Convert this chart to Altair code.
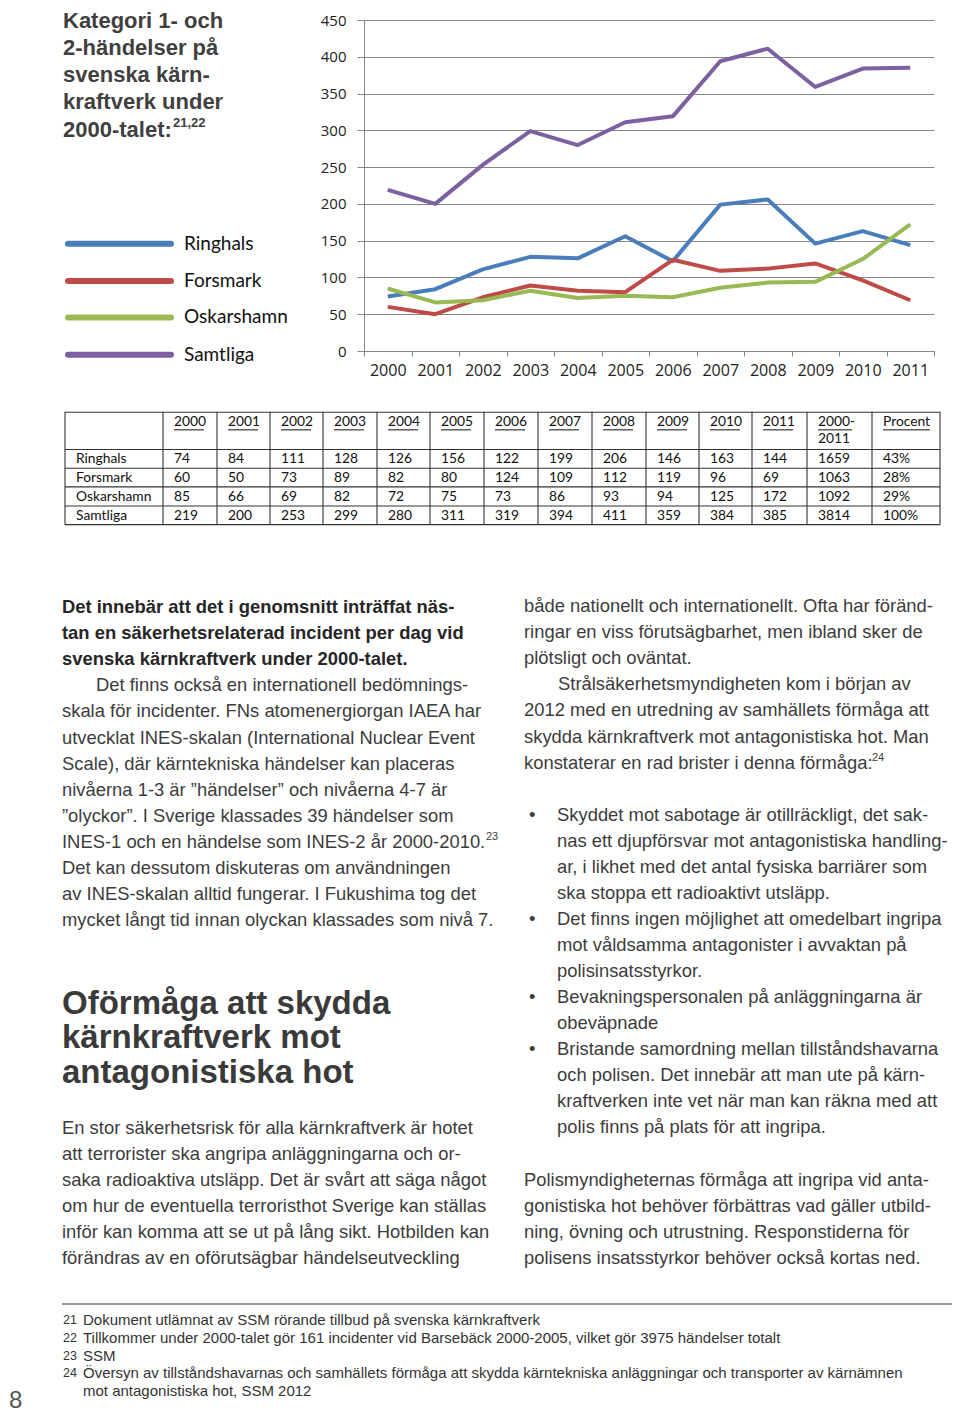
import altair as alt
import pandas as pd

# ---------------- data ----------------
years = ["2000", "2001", "2002", "2003", "2004", "2005",
         "2006", "2007", "2008", "2009", "2010", "2011"]
series_names = ["Ringhals", "Forsmark", "Oskarshamn", "Samtliga"]
ringhals = [74, 84, 111, 128, 126, 156, 122, 199, 206, 146, 163, 144]
forsmark = [60, 50, 73, 89, 82, 80, 124, 109, 112, 119, 96, 69]
oskarshamn = [85, 66, 69, 82, 72, 75, 73, 86, 93, 94, 125, 172]
samtliga = [219, 200, 253, 299, 280, 311, 319, 394, 411, 359, 384, 385]
totals = [1659, 1063, 1092, 3814]
percents = ["43%", "28%", "29%", "100%"]
y_ticks = [0, 50, 100, 150, 200, 250, 300, 350, 400, 450]
series_colors = ["#4A7EBB", "#BE4B48", "#98B954", "#7D60A0"]

title_lines = ["Kategori 1- och", "2-händelser på", "svenska kärn-",
               "kraftverk under", "2000-talet:"]
title_sup = "21,22"
table_total_header = ["2000-", "2011"]
table_pct_header = "Procent"

col1_bold = ["Det innebär att det i genomsnitt inträffat näs-",
             "tan en säkerhetsrelaterad incident per dag vid",
             "svenska kärnkraftverk under 2000-talet."]
col1_body = ["Det finns också en internationell bedömnings-",
             "skala för incidenter. FNs atomenergiorgan IAEA har",
             "utvecklat INES-skalan (International Nuclear Event",
             "Scale), där kärntekniska händelser kan placeras",
             "nivåerna 1-3 är ”händelser” och nivåerna 4-7 är",
             "”olyckor”. I Sverige klassades 39 händelser som",
             "INES-1 och en händelse som INES-2 år 2000-2010.",
             "Det kan dessutom diskuteras om användningen",
             "av INES-skalan alltid fungerar. I Fukushima tog det",
             "mycket långt tid innan olyckan klassades som nivå 7."]
heading = ["Oförmåga att skydda", "kärnkraftverk mot", "antagonistiska hot"]
col1_para = ["En stor säkerhetsrisk för alla kärnkraftverk är hotet",
             "att terrorister ska angripa anläggningarna och or-",
             "saka radioaktiva utsläpp. Det är svårt att säga något",
             "om hur de eventuella terroristhot Sverige kan ställas",
             "inför kan komma att se ut på lång sikt. Hotbilden kan",
             "förändras av en oförutsägbar händelseutveckling"]
col2_body = ["både nationellt och internationellt. Ofta har föränd-",
             "ringar en viss förutsägbarhet, men ibland sker de",
             "plötsligt och oväntat.",
             "Strålsäkerhetsmyndigheten kom i början av",
             "2012 med en utredning av samhällets förmåga att",
             "skydda kärnkraftverk mot antagonistiska hot. Man",
             "konstaterar en rad brister i denna förmåga:"]
bullets = [["Skyddet mot sabotage är otillräckligt, det sak-",
            "nas ett djupförsvar mot antagonistiska handling-",
            "ar, i likhet med det antal fysiska barriärer som",
            "ska stoppa ett radioaktivt utsläpp."],
           ["Det finns ingen möjlighet att omedelbart ingripa",
            "mot våldsamma antagonister i avvaktan på",
            "polisinsatsstyrkor."],
           ["Bevakningspersonalen på anläggningarna är",
            "obeväpnade"],
           ["Bristande samordning mellan tillståndshavarna",
            "och polisen. Det innebär att man ute på kärn-",
            "kraftverken inte vet när man kan räkna med att",
            "polis finns på plats för att ingripa."]]
col2_para = ["Polismyndigheternas förmåga att ingripa vid anta-",
             "gonistiska hot behöver förbättras vad gäller utbild-",
             "ning, övning och utrustning.  Responstiderna för",
             "polisens insatsstyrkor behöver också kortas ned."]
footnote_nums = ["21", "22", "23", "24", ""]
footnote_texts = ["Dokument utlämnat av SSM rörande tillbud på svenska kärnkraftverk",
                  "Tillkommer under 2000-talet gör 161 incidenter vid Barsebäck 2000-2005, vilket gör 3975 händelser totalt",
                  "SSM",
                  "Översyn av tillståndshavarnas och samhällets förmåga att skydda kärntekniska anläggningar och transporter av kärnämnen",
                  "mot antagonistiska hot, SSM 2012"]
page_number = "8"

# ---------------- layout ----------------
SPLIT = 560


def PY(y):
    # reference page y -> page y; the top band is squeezed so it fits below the 8px margin
    if y >= SPLIT:
        return y
    return SPLIT - (SPLIT - y) * ((SPLIT - 12) / (SPLIT - 2))


PAD_LEFT = 356
PLOT_W = 570
plot_top = PY(10)
plot_bot = PY(347)
PAD_TOP = round(plot_top - 8)
PLOT_H = round(plot_bot - plot_top)
PAD_BOTTOM = 1404 - PAD_TOP - PLOT_H
PAD_RIGHT = 944 - PAD_LEFT - PLOT_W
OX = 8 + PAD_LEFT
OY = 8 + PAD_TOP


def lx(x):
    return x - OX


def ly(y):
    return PY(y) - OY


GRID = "#868686"

STY = {
    "title":   dict(font="Liberation Sans", fontSize=22, fontWeight="bold", color="#404040"),
    "tsup":    dict(font="Liberation Sans", fontSize=13, fontWeight="bold", color="#404040"),
    "bodyb":   dict(font="Liberation Sans", fontSize=18.4, fontWeight="bold", color="#262626"),
    "body":    dict(font="Liberation Sans", fontSize=18.4, fontWeight="normal", color="#3c3c3c"),
    "sup":     dict(font="Liberation Sans", fontSize=11, fontWeight="normal", color="#3c3c3c"),
    "head":    dict(font="Liberation Sans", fontSize=33, fontWeight="bold", color="#3a3a3a"),
    "legend":  dict(font="Lato", fontSize=19, fontWeight="normal", color="#111111"),
    "table":   dict(font="Lato", fontSize=13.8, fontWeight="normal", color="#111111"),
    "fn":      dict(font="Liberation Sans", fontSize=15, fontWeight="normal", color="#333333"),
    "fnnum":   dict(font="Liberation Sans", fontSize=12.5, fontWeight="normal", color="#333333"),
    "page":    dict(font="Liberation Sans", fontSize=24, fontWeight="normal", color="#555555"),
}

items = []  # (style, text, ref_page_x, ref_page_y)

for i, t in enumerate(title_lines):
    items.append(("title", t, 63, 11 + 27.7 * i))
items.append(("tsup", title_sup, 173, 115))

# legend
legend_y = [238, 276, 313, 351]
for name, lyy in zip(series_names, legend_y):
    items.append(("legend", name, 184, lyy))

# table
bounds = [65, 163, 217, 270, 323, 377, 430, 484, 538, 592, 646, 699, 752, 807, 872, 940]
hlines = [409.5, 447.5, 466.5, 485.5, 505, 524]
header_labels = years + [table_total_header[0], table_pct_header]
underlines = []
for i, lab in enumerate(header_labels):
    tx = bounds[i + 1] + 11
    items.append(("table", lab, tx, 419))
    w = 30 if lab in years else (34 if lab == table_total_header[0] else 47)
    underlines.append((lx(tx), lx(tx + w)))
items.append(("table", table_total_header[1], bounds[13] + 11, 437))
row_y = [457, 476, 496, 515]
all_series = [ringhals, forsmark, oskarshamn, samtliga]
for name, vals, tot, pct, ry in zip(series_names, all_series, totals, percents, row_y):
    items.append(("table", name, 76, ry))
    cells = [str(v) for v in vals] + [str(tot), pct]
    for i, c in enumerate(cells):
        items.append(("table", c, bounds[i + 1] + 11, ry))

# column 1
LH = 26.1
y0 = 607
for i, t in enumerate(col1_bold):
    items.append(("bodyb", t, 62, y0 + LH * i))
for i, t in enumerate(col1_body):
    x = 96 if i == 0 else 62
    items.append(("body", t, x, y0 + LH * (i + 3)))
items.append(("sup", "23", 486, y0 + LH * 9 - 5))
for i, t in enumerate(heading):
    items.append(("head", t, 62, 1004 + 34.3 * i))
for i, t in enumerate(col1_para):
    items.append(("body", t, 62, 1128 + 26 * i))

# column 2
for i, t in enumerate(col2_body):
    x = 558 if i == 3 else 524
    items.append(("body", t, x, 606 + LH * i))
items.append(("sup", "24", 872, 606 + LH * 6 - 5))
k = 0
for b in bullets:
    for j, t in enumerate(b):
        yy = 815 + 26 * k
        if j == 0:
            items.append(("body", "•", 529, yy))
        items.append(("body", t, 557, yy))
        k += 1
for i, t in enumerate(col2_para):
    items.append(("body", t, 524, 1180 + 26 * i))

# footnotes
for i, (n, t) in enumerate(zip(footnote_nums, footnote_texts)):
    yy = 1320 + 17.8 * i
    if n:
        items.append(("fnnum", n, 63, yy))
    items.append(("fn", t, 83, yy))
items.append(("page", page_number, 9, 1401))

# ---------------- chart ----------------
color_scale = alt.Scale(domain=series_names, range=series_colors)

long_df = pd.DataFrame([
    {"year": y, "series": s, "value": v}
    for s, vals in zip(series_names, all_series)
    for y, v in zip(years, vals)
])

lines = alt.Chart(long_df).mark_line(strokeWidth=4, strokeJoin="round").encode(
    x=alt.X("year:O", bandPosition=0.5,
            scale=alt.Scale(type="band", paddingInner=0, paddingOuter=0),
            axis=alt.Axis(title=None, labelAngle=0, tickBand="extent", grid=False,
                          domainColor=GRID, tickColor=GRID, tickSize=5,
                          labelFont="Open Sans", labelFontSize=16, labelColor="#222222",
                          labelPadding=6)),
    y=alt.Y("value:Q", scale=alt.Scale(domain=[0, 450], nice=False),
            axis=alt.Axis(title=None, values=y_ticks, grid=True, gridColor=GRID,
                          gridWidth=1.2, domainColor=GRID, tickColor=GRID, tickSize=7,
                          labelFont="Open Sans", labelFontSize=15, labelColor="#222222",
                          labelPadding=11)),
    color=alt.Color("series:N", scale=color_scale, legend=None),
)

leg_df = pd.DataFrame({"series": series_names, "ly": [ly(v) for v in legend_y]})
legend_rules = alt.Chart(leg_df).mark_rule(strokeWidth=6, strokeCap="round").encode(
    x=alt.value(lx(68)), x2=alt.value(lx(171)),
    y=alt.Y("ly:Q", scale=None),
    color=alt.Color("series:N", scale=color_scale, legend=None),
)

vdf = pd.DataFrame({"bx": [lx(b) for b in bounds]})
table_v = alt.Chart(vdf).mark_rule(color="#333333", strokeWidth=1.1).encode(
    x=alt.X("bx:Q", scale=None), y=alt.value(ly(409)), y2=alt.value(ly(524)))
hdf = pd.DataFrame({"hy": [ly(h) for h in hlines]})
table_h = alt.Chart(hdf).mark_rule(color="#333333", strokeWidth=1.1).encode(
    y=alt.Y("hy:Q", scale=None), x=alt.value(lx(65)), x2=alt.value(lx(940)))
udf = pd.DataFrame({"ux": [u[0] for u in underlines], "ux2": [u[1] for u in underlines]})
table_u = alt.Chart(udf).mark_rule(color="#111111", strokeWidth=1).encode(
    x=alt.X("ux:Q", scale=None), x2="ux2:Q", y=alt.value(ly(427.5)))

fn_rule = alt.Chart(pd.DataFrame({"a": [0]})).mark_rule(color="#777777", strokeWidth=1.5).encode(
    x=alt.value(lx(62)), x2=alt.value(lx(958)), y=alt.value(ly(1304)))

text_layers = []
for key, sty in STY.items():
    rows = [(t, lx(x), ly(y)) for (s, t, x, y) in items if s == key]
    if not rows:
        continue
    df = pd.DataFrame(rows, columns=["t", "px", "py"])
    text_layers.append(
        alt.Chart(df).mark_text(align="left", baseline="middle", **sty).encode(
            x=alt.X("px:Q", scale=None), y=alt.Y("py:Q", scale=None), text="t:N"))

chart = alt.layer(lines, legend_rules, table_v, table_h, table_u, fn_rule, *text_layers).properties(
    width=PLOT_W, height=PLOT_H,
    padding={"left": PAD_LEFT, "top": PAD_TOP, "right": PAD_RIGHT, "bottom": PAD_BOTTOM},
    autosize=alt.AutoSizeParams(type="none"),
).configure_view(stroke=None)

chart.save("out.html", embed_options={"renderer": "svg", "actions": False})
